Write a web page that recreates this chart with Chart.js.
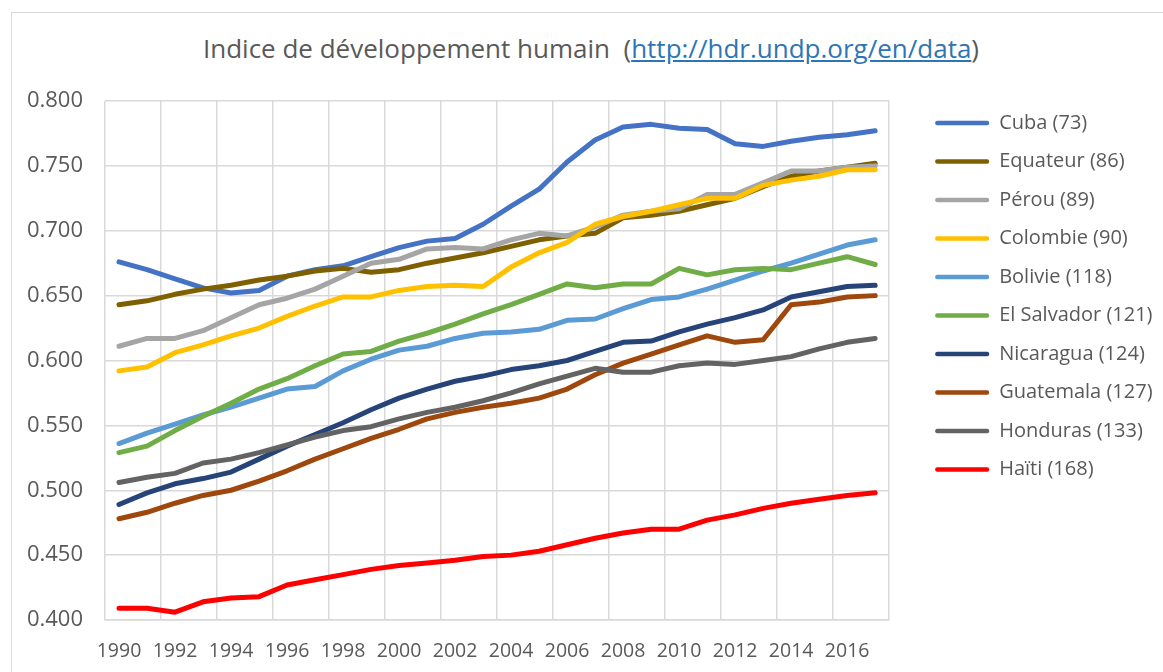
<!DOCTYPE html>
<html lang="fr">
<head>
<meta charset="utf-8">
<title>Indice de développement humain</title>
<script src="https://cdn.jsdelivr.net/npm/chart.js@4/dist/chart.umd.min.js"></script>
<style>
  body { margin: 0; background: #fff; font-family: 'Open Sans', sans-serif; }
  #frame { position: absolute; left: 11px; top: 12px; width: 1200px; height: 700px; border: 1.5px solid #d9d9d9; }
  #titre { position: absolute; top: 31px; left: 0; width: 1182px; text-align: center; font-size: 26px; line-height: 34px; color: #595959; white-space: pre; }
  #titre a { color: #2e75b6; text-decoration: underline; }
  #chart { position: absolute; left: 0; top: 0; }
</style>
</head>
<body>
<div id="frame"></div>
<div id="titre">Indice de développement humain  (<a href="http://hdr.undp.org/en/data">http://hdr.undp.org/en/data</a>)</div>
<canvas id="chart" width="1163" height="672"></canvas>
<script>
// années
const years = ['1990','1991','1992','1993','1994','1995','1996','1997','1998','1999','2000','2001','2002','2003',
  '2004','2005','2006','2007','2008','2009','2010','2011','2012','2013','2014','2015','2016','2017'];

// IDH par pays (rang entre parenthèses)
const countries = ['Cuba (73)', 'Equateur (86)', 'Pérou (89)', 'Colombie (90)', 'Bolivie (118)',
  'El Salvador (121)', 'Nicaragua (124)', 'Guatemala (127)', 'Honduras (133)', 'Haïti (168)'];

const cuba = [0.676,0.670,0.663,0.656,0.652,0.654,0.665,0.670,0.673,0.680,0.687,0.692,0.694,0.705,0.719,0.732,0.753,0.770,0.780,0.782,0.779,0.778,0.767,0.765,0.769,0.772,0.774,0.777];
const equateur = [0.643,0.646,0.651,0.655,0.658,0.662,0.665,0.669,0.671,0.668,0.670,0.675,0.679,0.683,0.688,0.693,0.696,0.698,0.710,0.712,0.715,0.720,0.725,0.734,0.742,0.746,0.749,0.752];
const perou = [0.611,0.617,0.617,0.623,0.633,0.643,0.648,0.655,0.665,0.675,0.678,0.686,0.687,0.686,0.693,0.698,0.696,0.703,0.712,0.715,0.717,0.728,0.728,0.737,0.746,0.746,0.749,0.750];
const colombie = [0.592,0.595,0.606,0.612,0.619,0.625,0.634,0.642,0.649,0.649,0.654,0.657,0.658,0.657,0.672,0.683,0.691,0.705,0.711,0.715,0.720,0.725,0.725,0.735,0.739,0.742,0.747,0.747];
const bolivie = [0.536,0.544,0.551,0.558,0.564,0.571,0.578,0.580,0.592,0.601,0.608,0.611,0.617,0.621,0.622,0.624,0.631,0.632,0.640,0.647,0.649,0.655,0.662,0.669,0.675,0.682,0.689,0.693];
const salvador = [0.529,0.534,0.546,0.557,0.567,0.578,0.586,0.596,0.605,0.607,0.615,0.621,0.628,0.636,0.643,0.651,0.659,0.656,0.659,0.659,0.671,0.666,0.670,0.671,0.670,0.675,0.680,0.674];
const nicaragua = [0.489,0.498,0.505,0.509,0.514,0.524,0.534,0.543,0.552,0.562,0.571,0.578,0.584,0.588,0.593,0.596,0.600,0.607,0.614,0.615,0.622,0.628,0.633,0.639,0.649,0.653,0.657,0.658];
const guatemala = [0.478,0.483,0.490,0.496,0.500,0.507,0.515,0.524,0.532,0.540,0.547,0.555,0.560,0.564,0.567,0.571,0.578,0.589,0.598,0.605,0.612,0.619,0.614,0.616,0.643,0.645,0.649,0.650];
const honduras = [0.506,0.510,0.513,0.521,0.524,0.529,0.535,0.541,0.546,0.549,0.555,0.560,0.564,0.569,0.575,0.582,0.588,0.594,0.591,0.591,0.596,0.598,0.597,0.600,0.603,0.609,0.614,0.617];
const haiti = [0.409,0.409,0.406,0.414,0.417,0.418,0.427,0.431,0.435,0.439,0.442,0.444,0.446,0.449,0.450,0.453,0.458,0.463,0.467,0.470,0.470,0.477,0.481,0.486,0.490,0.493,0.496,0.498];

const series = [cuba, equateur, perou, colombie, bolivie, salvador, nicaragua, guatemala, honduras, haiti];
const colors = ['#4472c4', '#7f6000', '#a5a5a5', '#ffc000', '#5b9bd5', '#70ad47', '#264478', '#9e480e', '#636363', '#ff0000'];

// graduations de l'axe Y
const yMin = 0.4;
const yMax = 0.8;
const yStep = 0.05;

(() => {
  Chart.defaults.font.family = "'Open Sans', sans-serif";
  Chart.defaults.color = '#595959';

  const gridColor = '#d9d9d9';

  const datasets = series.map((values, i) => ({
    label: countries[i],
    data: values,
    borderColor: colors[i],
    backgroundColor: colors[i],
    borderWidth: 5,
    borderCapStyle: 'round',
    borderJoinStyle: 'round',
    pointRadius: 0,
    tension: 0,
    // la dernière série est dessinée au-dessus
    order: series.length - i
  }));

  // la légende est coupée à sa boîte : on l'élargit jusqu'au bord du canvas
  const legendWide = {
    id: 'legendWide',
    afterLayout(chart) {
      chart.legend.right = chart.width;
      chart.legend.width = chart.width - chart.legend.left;
    }
  };

  const ctx = document.getElementById('chart').getContext('2d');
  new Chart(ctx, {
    type: 'line',
    data: { labels: years, datasets: datasets },
    plugins: [legendWide],
    options: {
      responsive: false,
      animation: false,
      layout: { padding: { top: 94.5, left: 0, right: 63, bottom: 0 } },
      plugins: {
        tooltip: { enabled: false },
        legend: {
          position: 'right',
          align: 'start',
          labels: {
            boxWidth: 54,
            boxHeight: 4.5,
            padding: 18.5,
            color: '#595959',
            font: { size: 20 },
            sort: (a, b) => a.datasetIndex - b.datasetIndex,
            generateLabels: (chart) => {
              const items = Chart.defaults.plugins.legend.labels.generateLabels(chart);
              items.forEach((it) => {
                it.fillStyle = it.strokeStyle;
                it.lineWidth = 0;
                it.borderRadius = 2;
              });
              return items;
            }
          }
        }
      },
      scales: {
        x: {
          type: 'category',
          offset: true,
          afterFit: (s) => { s.height = 52; },
          grid: {
            offset: true,
            drawTicks: false,
            lineWidth: 1.5,
            color: (c) => (c.type !== 'tick' || c.index % 2 === 0) ? gridColor : 'rgba(0,0,0,0)'
          },
          border: { display: true, color: gridColor, width: 1.5 },
          ticks: {
            autoSkip: false,
            maxRotation: 0,
            padding: 20,
            font: { size: 19.5 },
            callback: (v, i) => (i % 2 === 0 ? years[i] : '')
          }
        },
        xTop: {
          type: 'linear',
          position: 'top',
          afterFit: (s) => { s.height = 6.5; },
          grid: { display: false },
          border: { display: false },
          ticks: { display: false }
        },
        y: {
          min: yMin,
          max: yMax,
          afterFit: (s) => { s.width = 105; },
          grid: { drawTicks: false, lineWidth: 1.5, color: gridColor },
          border: { display: false },
          ticks: {
            stepSize: yStep,
            padding: 22,
            font: { size: 22 },
            callback: (v) => Number(v).toFixed(3)
          }
        },
        yRight: {
          type: 'linear',
          position: 'right',
          afterFit: (s) => { s.width = 27.5; },
          grid: { display: false },
          border: { display: false },
          ticks: { display: false }
        }
      }
    }
  });
})();
</script>
</body>
</html>
